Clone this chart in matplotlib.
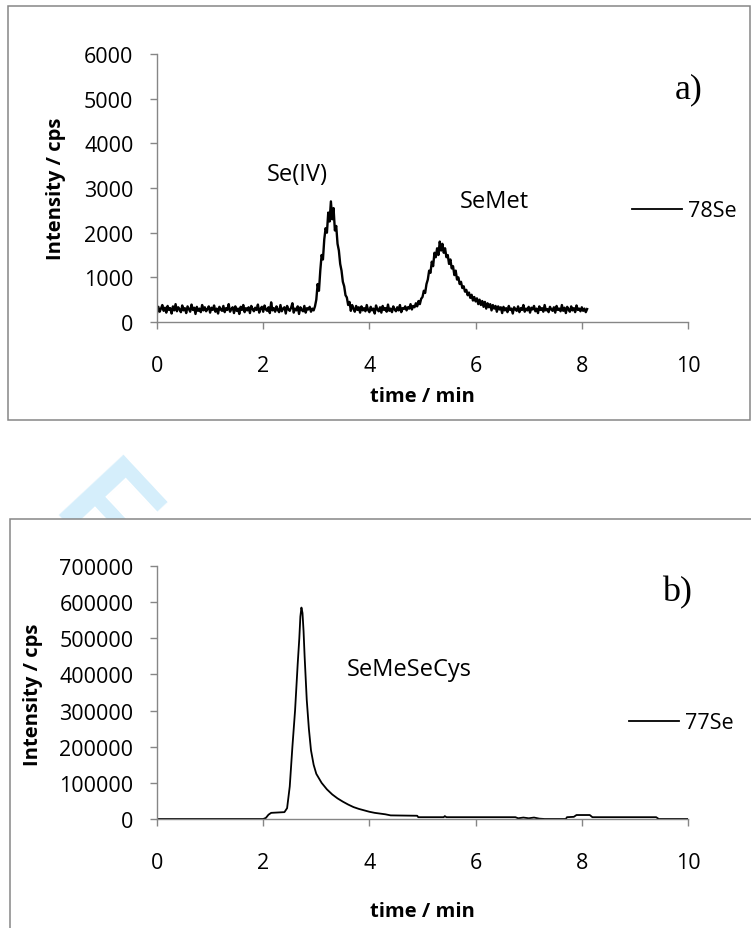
import numpy as np
import matplotlib
matplotlib.use("Agg")
import matplotlib.pyplot as plt
from matplotlib.patches import Rectangle

plt.rcParams['font.family'] = ['Open Sans', 'DejaVu Sans']

# ---------------- data ----------------
# panel a) 78Se trace, sampled every 0.025 min from 0 to 8.10 min
time_a_start = 0.0
time_a_step = 0.025
intensity_a = [
    200, 340, 230, 300, 380, 250, 320, 210, 360, 270, 310, 190, 350, 260, 400, 240, 330, 280, 220, 370,   # 0.0
    260, 310, 200, 350, 290, 230, 390, 270, 320, 180, 340, 250, 300, 220, 380, 260, 330, 240, 290, 350,   # 0.5
    210, 320, 270, 370, 230, 300, 190, 340, 280, 250, 360, 220, 310, 270, 400, 230, 290, 330, 200, 350,   # 1.0
    250, 300, 180, 340, 270, 380, 220, 310, 260, 330, 200, 360, 290, 240, 320, 270, 390, 210, 300, 340,   # 1.5
    230, 370, 280, 250, 330, 200, 440, 260, 310, 230, 350, 270, 220, 380, 240, 300, 330, 190, 360, 280,   # 2.0
    250, 320, 420, 210, 300, 260, 350, 180, 330, 270, 240, 360, 210, 310, 280, 340, 230, 300, 260, 350,   # 2.5
    500, 850, 700, 1150, 1500, 1400, 1850, 2100, 2000, 2450, 2250, 2700, 2300, 2550, 2050, 2150, 1750, 1600, 1300, 1150,  # 3.0
    900, 800, 600, 550, 380, 450, 250, 380, 300, 230, 360, 270, 330, 210, 350, 260, 310, 240, 380, 270,   # 3.5
    220, 340, 260, 300, 190, 370, 280, 240, 330, 210, 360, 270, 310, 230, 390, 250, 300, 220, 350, 280,   # 4.0
    240, 330, 260, 380, 220, 310, 290, 350, 260, 330, 300, 400, 280, 360, 330, 420, 350, 470, 400, 520,   # 4.5
    560, 700, 650, 850, 950, 1150, 1100, 1350, 1250, 1550, 1450, 1650, 1500, 1800, 1600, 1750, 1550, 1650, 1450, 1500,  # 5.0
    1300, 1400, 1200, 1250, 1050, 1150, 950, 1000, 850, 900, 760, 800, 680, 720, 600, 660, 540, 610, 480, 560,  # 5.5
    460, 530, 400, 500, 380, 470, 340, 450, 300, 420, 330, 400, 260, 380, 300, 360, 230, 350, 280, 330,   # 6.0
    200, 340, 260, 310, 220, 360, 270, 300, 190, 330, 280, 250, 350, 220, 310, 270, 380, 230, 300, 260,   # 6.5
    340, 210, 320, 280, 360, 240, 300, 200, 350, 270, 310, 230, 380, 260, 290, 220, 340, 280, 250, 330,   # 7.0
    210, 360, 270, 300, 240, 380, 250, 320, 200, 340, 280, 230, 350, 260, 310, 220, 370, 270, 300, 240,   # 7.5
    330, 250, 300, 220, 290,                                                                              # 8.0
]
time_a = np.round(time_a_start + time_a_step * np.arange(len(intensity_a)), 3)

# panel b) 77Se trace
time_b = [0.0, 2.00, 2.05, 2.10, 2.15, 2.40, 2.45, 2.50, 2.55, 2.60,
          2.65, 2.68, 2.70, 2.72, 2.74, 2.76, 2.78, 2.82, 2.86, 2.90,
          2.95, 3.00, 3.10, 3.20, 3.30, 3.40, 3.50, 3.60, 3.70, 3.80,
          3.90, 4.00, 4.10, 4.20, 4.30, 4.40, 4.90, 4.92, 5.40, 5.42,
          5.45, 6.75, 6.80, 6.90, 7.00, 7.10, 7.20, 7.30, 7.70, 7.72,
          7.85, 7.90, 8.15, 8.20, 9.40, 9.45, 10.0]
intensity_b = [0, 0, 3000, 12000, 17000, 19000, 30000, 90000, 200000, 300000,
               430000, 500000, 560000, 585000, 570000, 520000, 450000, 330000, 250000, 190000,
               150000, 125000, 100000, 82000, 68000, 57000, 48000, 40000, 33000, 28000,
               24000, 20000, 17000, 15000, 13000, 10000, 9000, 5000, 5000, 8000,
               5000, 5000, 2000, 4000, 2000, 4000, 1000, 0, 0, 5000,
               6000, 11000, 11000, 5000, 5000, 0, 0]

xticks = [0, 2, 4, 6, 8, 10]
yticks_a = [0, 1000, 2000, 3000, 4000, 5000, 6000]
yticks_b = [0, 100000, 200000, 300000, 400000, 500000, 600000, 700000]

# ---------------- figure ----------------
W, H = 751, 929
fig = plt.figure(figsize=(W / 100, H / 100), dpi=100)

def fx(px):
    return px / W

def fy(py):
    return 1 - py / H

gray = '#868686'
TICK_FS = 15.5
ANN_FS = 17
LAB_FS = 14.5

# watermark fragment
fig.text(fx(50), fy(514), 'F', family='Liberation Sans', weight='bold',
         fontsize=92, color='#d5eefb', rotation=-47, rotation_mode='anchor',
         ha='left', va='baseline', zorder=-3)

# chart boxes
fig.add_artist(Rectangle((fx(8), fy(420.7)), fx(749.5) - fx(8), fy(7) - fy(420.7),
                         transform=fig.transFigure, facecolor='white',
                         edgecolor=gray, lw=1.1, zorder=-2))
fig.add_artist(Rectangle((fx(10), -0.1), 1.2, fy(520) + 0.1,
                         transform=fig.transFigure, facecolor='white',
                         edgecolor=gray, lw=1.1, zorder=-2))

def style_axes(ax, yticks, ylim):
    ax.set_facecolor('none')
    for s in ['top', 'right']:
        ax.spines[s].set_visible(False)
    for s in ['left', 'bottom']:
        ax.spines[s].set_color(gray)
        ax.spines[s].set_linewidth(1.0)
    ax.set_xlim(0, 10)
    ax.set_ylim(*ylim)
    ax.set_xticks(xticks)
    ax.set_yticks(yticks)
    ax.tick_params(axis='both', direction='out', length=5, width=1.0,
                   color=gray, labelsize=TICK_FS, labelcolor='black')
    ax.tick_params(axis='x', pad=19)
    ax.tick_params(axis='y', pad=12)

# top axes
axa = fig.add_axes([fx(157), fy(323), fx(688) - fx(157), fy(55) - fy(323)])
style_axes(axa, yticks_a, (0, 6000))
la, = axa.plot(time_a, intensity_a, color='black', lw=1.7, label='78Se')
axa.set_xlabel('time / min', fontsize=LAB_FS, weight='bold')
axa.set_ylabel('Intensity / cps', fontsize=LAB_FS, weight='bold')
axa.xaxis.set_label_coords(0.5, -(397 - 323) / 268)
axa.xaxis.label.set_va('center')
axa.yaxis.set_label_coords((56 - 157) / 531, 0.5)
axa.yaxis.label.set_va('center')
axa.text(2.64, 3313, 'Se(IV)', fontsize=ANN_FS, ha='center', va='center')
axa.text(6.35, 2709, 'SeMet', fontsize=ANN_FS, ha='center', va='center')
fig.text(fx(689), fy(90), 'a)', family='Liberation Serif', fontsize=26,
         ha='center', va='center')
fig.legend(handles=[axa.lines[0]], loc='center left', bbox_to_anchor=(fx(632), fy(212)),
           bbox_transform=fig.transFigure, frameon=False, fontsize=TICK_FS,
           borderpad=0, borderaxespad=0, handlelength=2.3, handletextpad=0.3)
fig.legends[-1].legend_handles[0].set_linewidth(1.3)

# bottom axes
axb = fig.add_axes([fx(157), fy(820), fx(688) - fx(157), fy(567) - fy(820)])
style_axes(axb, yticks_b, (0, 700000))
lb, = axb.plot(time_b, intensity_b, color='black', lw=1.3, label='77Se')
axb.set_xlabel('time / min', fontsize=LAB_FS, weight='bold')
axb.set_ylabel('Intensity / cps', fontsize=LAB_FS, weight='bold')
axb.xaxis.set_label_coords(0.5, -(912 - 820) / 253)
axb.xaxis.label.set_va('center')
axb.yaxis.set_label_coords((33 - 157) / 531, (820 - 695) / 253)
axb.yaxis.label.set_va('center')
axb.text(4.76, 415000, 'SeMeSeCys', fontsize=ANN_FS, ha='center', va='center')
fig.text(fx(677), fy(593), 'b)', family='Liberation Serif', fontsize=26,
         ha='center', va='center')
fig.legend(handles=[lb], loc='center left', bbox_to_anchor=(fx(629), fy(724)),
           bbox_transform=fig.transFigure, frameon=False, fontsize=TICK_FS,
           borderpad=0, borderaxespad=0, handlelength=2.3, handletextpad=0.3)

fig.savefig('out.png', dpi=100)
